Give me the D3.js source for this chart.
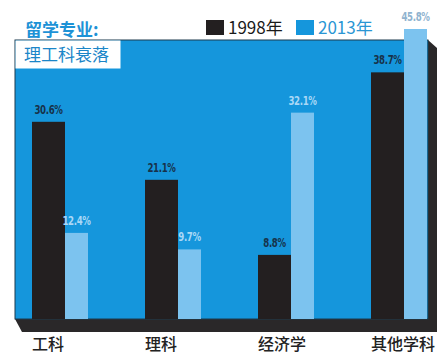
<!DOCTYPE html>
<html>
<head>
<meta charset="utf-8">
<script src="https://cdn.jsdelivr.net/npm/d3@7"></script>
<style>
  body { margin: 0; background: #fff; }
  svg { display: block; }
</style>
</head>
<body>
<svg id="chart" width="444" height="361"></svg>
<script>
const categories = ["工科", "理科", "经济学", "其他学科"];
const seriesNames = ["1998年", "2013年"];
const values1998 = [30.6, 21.1, 8.8, 38.7];
const values2013 = [12.4, 9.7, 32.1, 45.8];
const valueLabels1998 = ["30.6%", "21.1%", "8.8%", "38.7%"];
const valueLabels2013 = ["12.4%", "9.7%", "32.1%", "45.8%"];

const svg = d3.select("#chart");
const panel = { left: 15, top: 40, right: 428, bottom: 319 };
const blue = "#1596dc", light = "#7cc3ef", dark = "#231f20";

// 3d shadow behind the panel
svg.append("path")
    .attr("d", `M${panel.left},${panel.bottom} L${panel.left + 7},${panel.bottom + 13}
                L${panel.right + 9},${panel.bottom + 13} L${panel.right + 9},${panel.top + 8}
                L${panel.right},${panel.top} Z`)
    .attr("fill", "#2a2829");

svg.append("rect")
    .attr("x", panel.left).attr("y", panel.top)
    .attr("width", panel.right - panel.left).attr("height", panel.bottom - panel.top)
    .attr("fill", blue)
    .attr("stroke", "#1c3a4e").attr("stroke-width", 1);

// subtitle box
svg.append("rect")
    .attr("x", panel.left + 0.5).attr("y", panel.top + 0.5)
    .attr("width", 105).attr("height", 28)
    .attr("fill", "#fff");
svg.append("text")
    .attr("x", 24).attr("y", 61)
    .style("font", "17px 'Noto Sans CJK SC'")
    .attr("fill", "#1b86c8")
    .text("理工科衰落");

// title
svg.append("text")
    .attr("x", 25).attr("y", 36)
    .style("font", "bold 17px 'Noto Sans CJK SC'")
    .attr("fill", "#1d92d6")
    .text("留学专业:");

// legend
const legend = [
    { name: seriesNames[0], x: 206, fill: dark, text: "#1a1a1a" },
    { name: seriesNames[1], x: 296, fill: blue, text: "#2a96d4" }
];
legend.forEach(l => {
    svg.append("rect").attr("x", l.x).attr("y", 20).attr("width", 18).attr("height", 15).attr("fill", l.fill);
    svg.append("text")
        .attr("x", l.x + 22).attr("y", 34)
        .style("font", "17px 'Noto Sans CJK SC'")
        .attr("fill", l.text)
        .text(l.name);
});

const x0 = d3.scaleBand()
    .domain(categories)
    .range([32, 428])
    .paddingInner(0.4956)
    .paddingOuter(0);

// hand-drawn infographic: zero sits a bit above the panel floor
const y = d3.scaleLinear().domain([-1.7, 45.8]).range([panel.bottom, 29]);

const blackW = 33, lightW = 23;

const groups = svg.selectAll(".grp")
    .data(categories)
    .join("g")
    .attr("class", "grp")
    .attr("transform", d => `translate(${x0(d)},0)`);

groups.append("rect")
    .attr("x", 0)
    .attr("y", (d, i) => y(values1998[i]))
    .attr("width", blackW)
    .attr("height", (d, i) => panel.bottom - y(values1998[i]))
    .attr("fill", dark);

groups.append("rect")
    .attr("x", blackW)
    .attr("y", (d, i) => y(values2013[i]))
    .attr("width", lightW)
    .attr("height", (d, i) => panel.bottom - y(values2013[i]))
    .attr("fill", light);

// condensed bold percent labels, squeezed horizontally
const labelFont = "bold 12px 'DejaVu Sans', sans-serif";

groups.append("text")
    .attr("transform", (d, i) => `translate(${blackW / 2},${y(values1998[i]) - 8}) scale(0.72,1.05)`)
    .attr("text-anchor", "middle")
    .style("font", labelFont)
    .style("letter-spacing", "-0.5px")
    .attr("fill", "#17324a")
    .text((d, i) => valueLabels1998[i]);

groups.append("text")
    .attr("transform", (d, i) => `translate(${blackW + lightW / 2},${y(values2013[i]) - 8}) scale(0.72,1.05)`)
    .attr("text-anchor", "middle")
    .style("font", labelFont)
    .style("letter-spacing", "-0.5px")
    .attr("fill", (d, i) => y(values2013[i]) < panel.top ? "#8fb3cf" : "#a9d8f6")
    .text((d, i) => valueLabels2013[i]);

groups.append("text")
    .attr("x", 0)
    .attr("y", 350)
    .style("font", "500 16px 'Noto Sans CJK SC'")
    .attr("fill", "#222")
    .text(d => d);
</script>
</body>
</html>
